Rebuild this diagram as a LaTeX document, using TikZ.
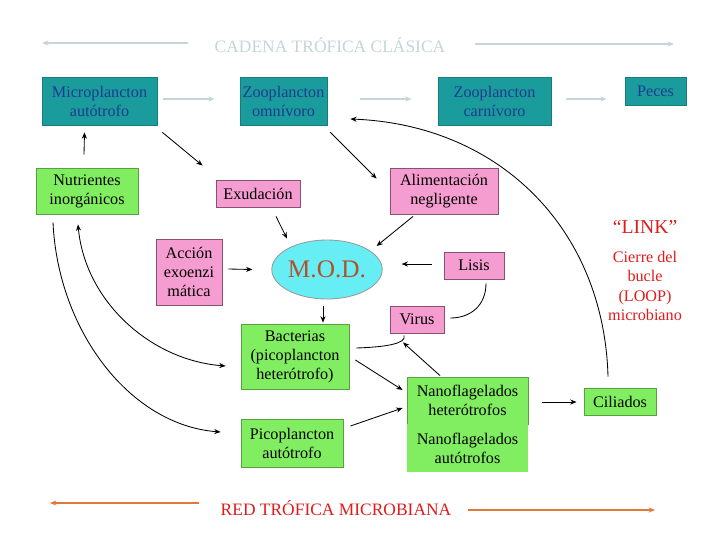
\documentclass[tikz,border=0pt]{standalone}
\usepackage{fontspec}
\setmainfont{Liberation Serif}
\usetikzlibrary{arrows.meta,shapes.geometric}
\definecolor{verdeazul}{HTML}{1A9C9C}
\definecolor{azultxt}{HTML}{1F3A8F}
\definecolor{verdecaja}{HTML}{80EE60}
\definecolor{verdeborde}{HTML}{5AA040}
\definecolor{rosacaja}{HTML}{F59CD0}
\definecolor{rosaborde}{HTML}{8A5070}
\definecolor{cian}{HTML}{66EEF4}
\definecolor{marron}{HTML}{B4502D}
\definecolor{gristit}{HTML}{C4D6DA}
\definecolor{rojotxt}{HTML}{E01B1B}
\definecolor{naranja}{HTML}{E07A3A}

\begin{document}
\begin{tikzpicture}[x=0.025cm, y=-0.025cm, >={Stealth[length=4.5pt,width=3.6pt]},
	txt/.style={font=\fontsize{11.5}{13.5}\selectfont, align=center, inner sep=0pt},
	clasica/.style={txt, fill=verdeazul, text=azultxt, draw=verdeazul!80!black, line width=0.5pt},
	verde/.style={txt, fill=verdecaja, draw=verdeborde, line width=0.6pt},
	rosa/.style={txt, fill=rosacaja, draw=rosaborde, line width=0.6pt},
	flecha/.style={->, line width=0.6pt},
	flechaclara/.style={->, gristit, line width=0.9pt}]
	\useasboundingbox[fill=white] (0,0) rectangle (720,540);
	
	% cadena clásica
	\node[txt, text=gristit, font=\fontsize{12.4}{14}\selectfont] (tit) at (330,45) {CADENA TRÓFICA CLÁSICA};
	\coordinate (tizq) at (42,43);
	\coordinate (tder) at (674,44);
	\draw[flechaclara] ([shift={(-26,-2)}]tit.west) -- (tizq);
	\draw[flechaclara] ([shift={(29,-1)}]tit.east) -- (tder);
	
	\node[clasica, minimum width=2.875cm, minimum height=1.2cm] (micro) at (99.5,101) {Microplancton\\autótrofo};
	\node[clasica, minimum width=2.175cm, minimum height=1.2cm] (zomni) at (283.5,101) {Zooplancton\\omnívoro};
	\node[clasica, minimum width=2.825cm, minimum height=1.2cm] (zcarn) at (494.5,101) {Zooplancton\\carnívoro};
	\node[clasica, minimum width=1.525cm, minimum height=0.7cm] (peces) at (655.5,91) {Peces};
	\draw[flechaclara] ([shift={(6,-2)}]micro.east) -- ([shift={(-25,-2)}]zomni.west);
	\draw[flechaclara] ([shift={(33,-2)}]zomni.east) -- ([shift={(-26,-2)}]zcarn.west);
	\draw[flechaclara] ([shift={(15,-2)}]zcarn.east) -- ([shift={(-18,8)}]peces.west);
	
	% cajas
	\node[verde, minimum width=2.55cm, minimum height=1.15cm] (nutri) at (87,191) {Nutrientes\\inorgánicos};
	\node[rosa, minimum width=2.1cm, minimum height=0.675cm] (exud) at (258,193.5) {Exudación};
	\node[rosa, minimum width=2.7cm, minimum height=1.15cm] (alim) at (444,191) {Alimentación\\negligente};
	\node[rosa, minimum width=1.65cm, minimum height=1.65cm] (accion) at (189,272) {Acción\\exoenzi\\mática};
	\node[ellipse, draw=gray!80, fill=cian, line width=0.6pt, minimum width=2.55cm, minimum height=1.475cm,
		inner sep=0pt, text=marron, font=\fontsize{18}{20}\selectfont] (mod) at (327,269.5) {M.O.D.};
	\node[rosa, minimum width=1.5cm, minimum height=0.675cm] (lisis) at (474,265.5) {Lisis};
	\node[rosa, minimum width=1.35cm, minimum height=0.675cm] (virus) at (417,319.5) {Virus};
	\node[verde, minimum width=2.7cm, minimum height=1.625cm] (bact) at (295,356.5) {Bacterias\\(picoplancton\\heterótrofo)};
	\node[verde, minimum width=2.55cm, minimum height=1.2cm] (pico) at (292,443) {Picoplancton\\autótrofo};
	\node[verde, minimum width=3.025cm, minimum height=1.175cm] (nanoh) at (467.5,400.5) {Nanoflagelados\\heterótrofos};
	\node[verde, draw=none, minimum width=3.025cm, minimum height=1.2cm] (nanoa) at (467.5,448) {Nanoflagelados\\autótrofos};
	\node[verde, minimum width=1.8cm, minimum height=0.675cm] (cil) at (620,401.5) {Ciliados};
	
	% link
	\node[txt, text=rojotxt, font=\fontsize{14}{16}\selectfont] (link) at (645,227) {“LINK”};
	\node[txt, text=rojotxt, font=\fontsize{11.5}{13.7}\selectfont] (cierre) at (645,286) {Cierre del\\bucle\\(LOOP)\\microbiano};
	
	% flechas
	\draw[flecha] ([shift={(-3,-13)}]nutri.north) -- ([shift={(-15,7)}]micro.south);
	\draw[flecha] ([shift={(5,7)}]micro.south east) -- ([shift={(-13,-14)}]exud.north west);
	\draw[flecha] ([shift={(3,7)}]zomni.south east) -- ([shift={(-13,11)}]alim.north west);
	\draw[flecha] ([shift={(18,9)}]exud.south) -- ([shift={(-40,-1)}]mod.north);
	\draw[flecha] ([shift={(6,-3)}]accion.east) -- ([shift={(-19,0)}]mod.west);
	\draw[flecha] ([shift={(-31,2)}]alim.south) -- ([shift={(-6,-23.5)}]mod.east);
	\draw[flecha] ([shift={(-12,-1.5)}]lisis.west) -- ([shift={(19,-5.5)}]mod.east);
	\draw[line width=0.6pt] ([shift={(12,4)}]lisis.south) .. controls +(0,22) and +(20,0) .. ([shift={(6,-1.5)}]virus.east);
	\draw[flecha] ([shift={(-4,7)}]mod.south) -- ([shift={(28,-1)}]bact.north);
	\draw[line width=0.6pt] ([shift={(7,-8.5)}]bact.east) .. controls +(30,-1) and +(3,8) .. ([shift={(-13,2)}]virus.south);
	\draw[flecha] ([shift={(-27.5,-1)}]nanoh.north) -- ([shift={(-14,9)}]virus.south);
	\draw[flecha] ([shift={(6,3.5)}]bact.east) -- ([shift={(-4,-10.5)}]nanoh.west);
	\draw[flecha] ([shift={(7,-17)}]pico.east) -- ([shift={(-4,7.5)}]nanoh.west);
	\draw[flecha] ([shift={(14,1.5)}]nanoh.east) -- ([shift={(-7,0.5)}]cil.west);
	\draw[flecha] ([shift={(-12,-11)}]cil.north) .. controls +(-4,-147) and +(150,6) .. ([shift={(23,18)}]zomni.east);
	\draw[flecha] ([shift={(-34,8)}]nutri.south) .. controls +(5,108) and +(-91,-7) .. ([shift={(-20,-11)}]pico.west);
	\draw[<->, line width=0.6pt] ([shift={(-9,10)}]nutri.south) .. controls +(7,76) and +(-76,-6) .. ([shift={(-15,9.5)}]bact.west);
	
	% red microbiana
	\node[txt, text=rojotxt, font=\fontsize{12.4}{14}\selectfont] (red) at (336,508) {RED TRÓFICA MICROBIANA};
	\coordinate (rizq) at (50,503);
	\coordinate (rder) at (655,510);
	\draw[->, naranja, line width=0.9pt] ([shift={(-21,-5)}]red.west) -- (rizq);
	\draw[->, naranja, line width=0.9pt] ([shift={(16,2)}]red.east) -- (rder);
\end{tikzpicture}
\end{document}
